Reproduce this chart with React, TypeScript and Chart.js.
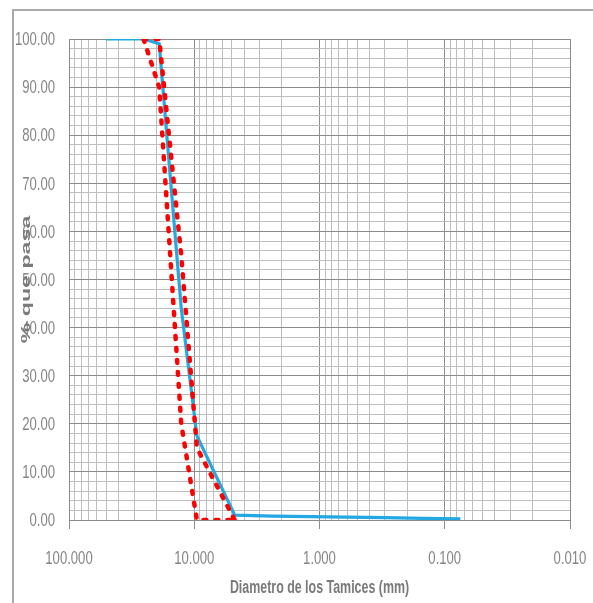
import React, { useEffect, useRef } from 'react';
import { Chart, registerables } from 'chart.js';

Chart.register(...registerables);

// ---- data ----
const sieveSizes = [50.8, 38.1, 25.4, 19.05, 12.7, 9.525, 4.75, 2.36, 1.18, 0.6, 0.3, 0.15, 0.075];
const passingSample = [100, 100, 100, 99, 44, 17.5, 1.0, 0.8, 0.7, 0.6, 0.5, 0.35, 0.25];
const limitSizes = [25.4, 19.05, 12.7, 9.525, 4.75];
const lowerLimit = [100, 90, 20, 0, 0];
const upperLimit = [100, 100, 55, 15, 0];
const xDecades = [100, 10, 1, 0.1, 0.01];
const xTickLabels = ['100.000', '10.000', '1.000', '0.100', '0.010'];
const yMajorTicks = [0, 10, 20, 30, 40, 50, 60, 70, 80, 90, 100];
const yTickLabels = ['0.00', '10.00', '20.00', '30.00', '40.00', '50.00', '60.00', '70.00', '80.00', '90.00', '100.00'];
const yMinorStep = 2;
const xTitle = 'Diametro de los Tamices (mm)';
const yTitle = '% que pasa';

const FONT = "'Liberation Sans', Arial, sans-serif";
const MAJOR = '#8c8c8c';
const MINOR = '#bdbdbd';
const LABEL = '#858585';
const TITLE = '#7a7a7a';
const NARROW = 0.69;

const isDecade = (v: number) => {
  const l = Math.log10(v);
  return Math.abs(l - Math.round(l)) < 1e-9;
};

const framePlugin = {
  id: 'frame',
  beforeDraw(chart: any) {
    const { ctx, chartArea } = chart;
    ctx.save();
    ctx.strokeStyle = '#a9a9a9';
    ctx.lineWidth = 2;
    ctx.beginPath();
    ctx.moveTo(chartArea.left - 56, chart.height);
    ctx.lineTo(chartArea.left - 56, chartArea.top - 29);
    ctx.lineTo(chart.width, chartArea.top - 29);
    ctx.stroke();
    ctx.restore();
  },
};

// Narrow (condensed) text labels, placed through the chart's own scales
const labelsPlugin = {
  id: 'narrowLabels',
  afterDraw(chart: any) {
    const { ctx, chartArea } = chart;
    const xs = chart.scales.x;
    const ys = chart.scales.y;
    ctx.save();
    ctx.fillStyle = LABEL;
    ctx.font = `19px ${FONT}`;
    // y tick labels
    ctx.textAlign = 'right';
    ctx.textBaseline = 'middle';
    yMajorTicks.forEach((v, i) => {
      const py = ys.getPixelForValue(v);
      ctx.save();
      ctx.translate(chartArea.left - 14, py + 1);
      ctx.scale(NARROW, 1);
      ctx.fillText(yTickLabels[i], 0, 0);
      ctx.restore();
    });
    // x tick labels
    ctx.textAlign = 'center';
    xDecades.forEach((d, i) => {
      const px = xs.getPixelForValue(d);
      ctx.save();
      ctx.translate(px, chartArea.bottom + 39);
      ctx.scale(NARROW, 1);
      ctx.fillText(xTickLabels[i], 0, 0);
      ctx.restore();
    });
    // x title
    ctx.fillStyle = TITLE;
    ctx.font = `bold 18px ${FONT}`;
    ctx.save();
    ctx.translate((chartArea.left + chartArea.right) / 2, chartArea.bottom + 68);
    ctx.scale(NARROW, 1);
    ctx.fillText(xTitle, 0, 0);
    ctx.restore();
    // y title (overlapping the tick labels, as in the original)
    ctx.save();
    ctx.font = `bold 16px ${FONT}`;
    ctx.translate(chartArea.left - 43, (chartArea.top + chartArea.bottom) / 2);
    ctx.rotate(-Math.PI / 2);
    ctx.scale(1.45, 0.8);
    ctx.fillText(yTitle, 0, 0);
    ctx.restore();
    ctx.restore();
  },
};

export default function App() {
  const ref = useRef<HTMLCanvasElement | null>(null);

  useEffect(() => {
    if (!ref.current) return;
    const chart = new Chart(ref.current, {
      type: 'line',
      data: {
        datasets: [
          {
            label: 'Límite inferior',
            data: limitSizes.map((x, i) => ({ x, y: lowerLimit[i] })),
            borderColor: '#ff0000',
            borderWidth: 4.5,
            borderDash: [3, 9],
            borderCapStyle: 'round',
            pointRadius: 0,
            fill: false,
            tension: 0,
            order: 1,
          },
          {
            label: 'Límite superior',
            data: limitSizes.map((x, i) => ({ x, y: upperLimit[i] })),
            borderColor: '#ff0000',
            borderWidth: 4.5,
            borderDash: [3, 9],
            borderCapStyle: 'round',
            pointRadius: 0,
            fill: false,
            tension: 0,
            order: 1,
          },
          {
            label: 'Muestra',
            data: sieveSizes.map((x, i) => ({ x, y: passingSample[i] })),
            borderColor: '#22a9e1',
            borderWidth: 3.2,
            pointRadius: 0,
            fill: false,
            tension: 0,
            order: 2,
          },
        ],
      },
      options: {
        animation: false,
        responsive: true,
        maintainAspectRatio: false,
        layout: { padding: { top: 39, right: 23, left: 0, bottom: 0 } },
        plugins: { legend: { display: false }, tooltip: { enabled: false } },
        scales: {
          x: {
            type: 'logarithmic',
            reverse: true,
            min: 0.01,
            max: 100,
            afterFit: (s: any) => { s.height = 83; },
            afterBuildTicks: (s: any) => {
              const vals: number[] = [];
              for (let e = -2; e < 2; e++) {
                for (let k = 1; k <= 9; k++) vals.push(k * Math.pow(10, e));
              }
              vals.push(100);
              s.ticks = vals.map((v) => ({ value: v, major: isDecade(v) }));
            },
            grid: {
              color: (c: any) => (c.tick && isDecade(c.tick.value) ? MAJOR : MINOR),
              tickColor: (c: any) => (c.tick && isDecade(c.tick.value) ? MAJOR : 'rgba(0,0,0,0)'),
              lineWidth: 1,
              drawTicks: true,
              tickLength: 9,
            },
            border: { display: true, color: MAJOR },
            ticks: { display: false, autoSkip: false },
          },
          y: {
            type: 'linear',
            min: 0,
            max: 100,
            afterFit: (s: any) => { s.width = 69; },
            afterBuildTicks: (s: any) => {
              const vals: number[] = [];
              for (let v = 0; v <= 100; v += yMinorStep) vals.push(v);
              s.ticks = vals.map((v) => ({ value: v }));
            },
            grid: {
              color: (c: any) => (c.tick && yMajorTicks.includes(Math.round(c.tick.value)) ? MAJOR : MINOR),
              lineWidth: 1,
              drawTicks: false,
            },
            border: { display: true, color: MAJOR },
            ticks: { display: false, autoSkip: false },
          },
        },
      },
      plugins: [framePlugin, labelsPlugin],
    } as any);
    return () => chart.destroy();
  }, []);

  return (
    <div style={{ position: 'fixed', left: 0, top: 0, width: 593, height: 603, background: '#fff' }}>
      <canvas ref={ref} />
    </div>
  );
}
